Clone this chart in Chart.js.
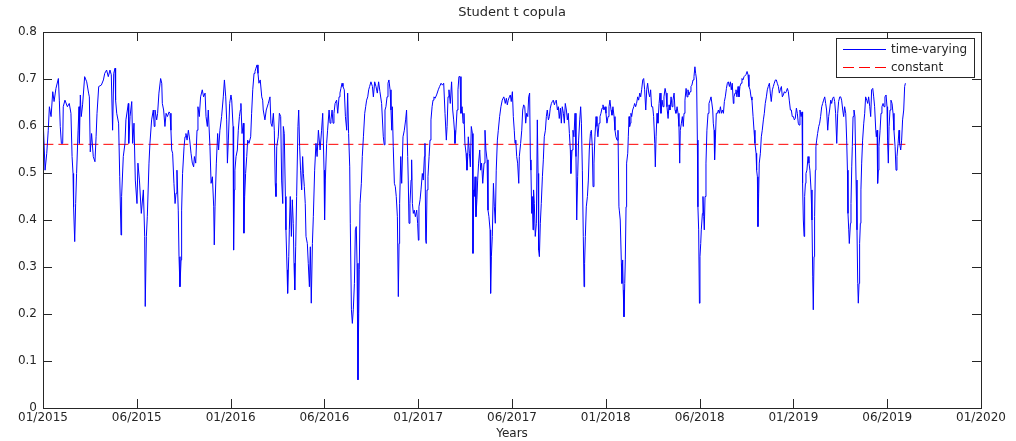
<!DOCTYPE html>
<html lang="en">
<head>
  <meta charset="UTF-8">
  <title>Student t copula</title>
  <script src="https://cdn.jsdelivr.net/npm/chart.js"></script>
  <style>
    body {
      margin: 0;
      background-color: #ffffff;
    }
    #chart {
      display: block;
    }
  </style>
</head>
<body>
  <canvas id="chart" width="1016" height="441"></canvas>

<script>
    // time in years since 01/2015
    const tYears = [
      0.002, 0.011, 0.020, 0.028, 0.034, 0.043, 0.052, 0.059, 0.069, 0.082,
      0.087, 0.092, 0.098, 0.105, 0.108, 0.117, 0.130, 0.140, 0.149, 0.155,
      0.160, 0.163, 0.169, 0.174, 0.179, 0.187, 0.192, 0.194, 0.199, 0.204,
      0.211, 0.222, 0.233, 0.243, 0.247, 0.252, 0.259, 0.268, 0.277, 0.283,
      0.288, 0.297, 0.311, 0.322, 0.329, 0.339, 0.348, 0.357, 0.364, 0.371,
      0.377, 0.384, 0.387, 0.393, 0.403, 0.409, 0.416, 0.419, 0.428, 0.437,
      0.442, 0.455, 0.457, 0.464, 0.473, 0.478, 0.485, 0.492, 0.501, 0.506,
      0.514, 0.524, 0.535, 0.542, 0.545, 0.551, 0.556, 0.565, 0.570, 0.579,
      0.588, 0.593,
      0.597, 0.606, 0.611, 0.618, 0.627, 0.633, 0.636, 0.643, 0.650, 0.656,
      0.663, 0.672, 0.677, 0.682, 0.686, 0.691, 0.698, 0.704, 0.709, 0.714,
      0.721, 0.725, 0.730, 0.736, 0.739, 0.744, 0.752, 0.757, 0.762, 0.768,
      0.775, 0.782, 0.789, 0.796, 0.803, 0.807, 0.814, 0.821, 0.826, 0.833,
      0.840, 0.849, 0.856, 0.864, 0.869, 0.876, 0.881, 0.890, 0.896, 0.903,
      0.910, 0.913, 0.917, 0.924, 0.931, 0.936, 0.943, 0.952, 0.961, 0.967,
      0.974, 0.979, 0.983, 0.988, 0.995, 1.002, 1.006, 1.013, 1.016, 1.020,
      1.023, 1.029, 1.036, 1.041, 1.047, 1.052, 1.055, 1.061, 1.068, 1.071,
      1.075, 1.080, 1.086, 1.091, 1.098, 1.107, 1.112, 1.118, 1.125, 1.130,
      1.135, 1.141, 1.146, 1.151, 1.158, 1.166, 1.171, 1.174, 1.183, 1.190,
      1.201,
      1.210, 1.215, 1.221, 1.228, 1.233, 1.238, 1.242, 1.246, 1.254, 1.260,
      1.267, 1.272, 1.278, 1.281, 1.286, 1.292, 1.295, 1.301, 1.304, 1.310,
      1.313, 1.318, 1.324, 1.329, 1.334, 1.338, 1.342, 1.347, 1.352, 1.359,
      1.363, 1.368, 1.373, 1.379, 1.384, 1.388, 1.393, 1.398, 1.402, 1.409,
      1.414, 1.420, 1.425, 1.430, 1.436, 1.441, 1.448, 1.455, 1.461, 1.468,
      1.477, 1.485, 1.491, 1.498, 1.501, 1.505, 1.512, 1.517, 1.525, 1.530,
      1.535, 1.541, 1.546, 1.551, 1.557, 1.565, 1.571, 1.578, 1.583, 1.588,
      1.594, 1.599, 1.606, 1.612, 1.619, 1.624, 1.629, 1.635, 1.638, 1.644,
      1.649, 1.654, 1.660, 1.665, 1.670, 1.674, 1.679, 1.683, 1.686, 1.690,
      1.697, 1.702, 1.708, 1.715, 1.720, 1.725, 1.731, 1.736, 1.741, 1.748,
      1.756, 1.761, 1.768, 1.775, 1.782, 1.789, 1.796, 1.805, 1.814, 1.819,
      1.823, 1.828, 1.834, 1.839, 1.844, 1.850, 1.855, 1.859, 1.862, 1.867,
      1.873, 1.878, 1.883, 1.889, 1.894, 1.898, 1.901, 1.907, 1.912, 1.919,
      1.926, 1.933, 1.938, 1.944, 1.947, 1.951, 1.956, 1.962, 1.965, 1.969,
      1.974, 1.979, 1.985, 1.992, 1.997, 2.001, 2.004, 2.010, 2.015, 2.022,
      2.027, 2.033, 2.036, 2.040, 2.043, 2.047, 2.052, 2.058, 2.063, 2.068,
      2.074, 2.079, 2.084, 2.090, 2.098, 2.107, 2.114, 2.122, 2.129, 2.136,
      2.143, 2.150, 2.154, 2.159, 2.164, 2.171, 2.178, 2.184, 2.189, 2.193,
      2.196, 2.201, 2.207, 2.212, 2.217, 2.223, 2.228, 2.234, 2.239, 2.244,
      2.249, 2.255, 2.260, 2.264, 2.267, 2.273, 2.278, 2.283, 2.289, 2.292,
      2.296, 2.299, 2.303, 2.308, 2.313, 2.317, 2.322, 2.328, 2.333, 2.338,
      2.344, 2.351, 2.356, 2.361, 2.367, 2.372, 2.377, 2.383, 2.386, 2.390,
      2.395, 2.401, 2.406, 2.411, 2.416, 2.422, 2.427, 2.434, 2.441, 2.448,
      2.456,
      2.459, 2.464, 2.470, 2.475, 2.480, 2.486, 2.491, 2.496, 2.502, 2.507,
      2.512, 2.516, 2.520, 2.525, 2.530, 2.536, 2.539, 2.546, 2.552, 2.557,
      2.562, 2.568, 2.573, 2.578, 2.584, 2.589, 2.594, 2.598, 2.601, 2.605,
      2.608, 2.612, 2.615, 2.619, 2.624, 2.630, 2.635, 2.639, 2.642, 2.646,
      2.651, 2.656, 2.662, 2.667, 2.672, 2.678, 2.683, 2.688, 2.694, 2.699,
      2.704, 2.710, 2.715, 2.720, 2.726, 2.731, 2.736, 2.742, 2.747, 2.752,
      2.758, 2.763, 2.768, 2.774, 2.779, 2.784, 2.790, 2.795, 2.800, 2.806,
      2.811, 2.814, 2.820, 2.825, 2.830, 2.836, 2.841, 2.845, 2.850, 2.855,
      2.861, 2.866, 2.870, 2.875, 2.880, 2.884, 2.887, 2.891, 2.896, 2.902,
      2.907, 2.912, 2.918, 2.923, 2.928, 2.932, 2.937, 2.942, 2.948, 2.953,
      2.958, 2.964, 2.969, 2.974, 2.980, 2.985, 2.990, 2.996, 3.001, 3.006,
      3.012, 3.017, 3.022, 3.028, 3.033, 3.038, 3.044, 3.049, 3.054, 3.060,
      3.065, 3.070,
      3.072, 3.077, 3.083, 3.086, 3.090, 3.093, 3.097, 3.101, 3.104, 3.108,
      3.111, 3.117, 3.120, 3.124, 3.127, 3.131, 3.134, 3.138, 3.143, 3.149,
      3.154, 3.159, 3.164, 3.170, 3.175, 3.181, 3.186, 3.191, 3.197, 3.202,
      3.207, 3.213, 3.218, 3.223, 3.229, 3.234, 3.239, 3.244, 3.250, 3.255,
      3.261, 3.264, 3.268, 3.273, 3.278, 3.284, 3.289, 3.294, 3.300, 3.305,
      3.310, 3.316, 3.321, 3.326, 3.332, 3.337, 3.342, 3.348, 3.353, 3.358,
      3.364, 3.369, 3.374, 3.380, 3.385, 3.390, 3.394, 3.397, 3.403, 3.408,
      3.413, 3.417, 3.422, 3.428, 3.433, 3.438, 3.443, 3.449, 3.454, 3.459,
      3.465, 3.470, 3.475, 3.479, 3.484, 3.488, 3.491, 3.495, 3.499, 3.502,
      3.506, 3.509, 3.515, 3.518, 3.522, 3.525, 3.529, 3.534, 3.539, 3.545,
      3.550, 3.556, 3.561, 3.566, 3.570, 3.573, 3.577, 3.580, 3.584, 3.589,
      3.595, 3.600, 3.605, 3.611, 3.616, 3.621, 3.627, 3.632, 3.637, 3.643,
      3.648, 3.653, 3.659, 3.664, 3.669, 3.674, 3.680,
      3.683, 3.689, 3.694, 3.699, 3.705, 3.710, 3.715, 3.721, 3.726, 3.731,
      3.737, 3.742, 3.747, 3.753, 3.758, 3.763, 3.769, 3.774, 3.779, 3.785,
      3.790, 3.795, 3.801, 3.804, 3.808, 3.811, 3.815, 3.818, 3.824, 3.829,
      3.834, 3.840, 3.845, 3.850, 3.856, 3.861, 3.866, 3.872, 3.877, 3.882,
      3.888, 3.893, 3.898, 3.904, 3.909, 3.914, 3.920, 3.925, 3.930, 3.936,
      3.941, 3.946, 3.952, 3.957, 3.962, 3.968, 3.973, 3.978, 3.984, 3.989,
      3.994, 4.000, 4.005, 4.010, 4.016, 4.021, 4.026, 4.030, 4.035, 4.041,
      4.046, 4.049, 4.053, 4.057, 4.060, 4.064, 4.067, 4.072, 4.078, 4.083,
      4.088, 4.094, 4.099, 4.103, 4.106, 4.110, 4.113, 4.117, 4.120, 4.124,
      4.129, 4.135, 4.140, 4.145, 4.151, 4.156, 4.161, 4.167, 4.172, 4.177,
      4.183, 4.188, 4.193, 4.199, 4.204, 4.209, 4.215, 4.220, 4.225, 4.231,
      4.236, 4.241, 4.247, 4.252, 4.257, 4.263, 4.268, 4.273, 4.279, 4.284,
      4.288, 4.291, 4.295, 4.298,
      4.304, 4.307, 4.311, 4.314, 4.318, 4.323, 4.328, 4.334, 4.339, 4.343,
      4.346, 4.350, 4.353, 4.357, 4.360, 4.364, 4.369, 4.375, 4.380, 4.385,
      4.391, 4.396, 4.401, 4.407, 4.412, 4.417, 4.423, 4.428, 4.433, 4.439,
      4.442, 4.446, 4.449, 4.453, 4.456, 4.462, 4.467, 4.472, 4.478, 4.483,
      4.488, 4.494, 4.499, 4.502, 4.506, 4.510, 4.515, 4.520, 4.526, 4.531,
      4.536, 4.542, 4.547, 4.552, 4.558, 4.563, 4.566, 4.572, 4.577, 4.582,
      4.588, 4.593, 4.597
    ];

    // time-varying correlation
    const rho = [
      0.599, 0.506, 0.542, 0.591, 0.641, 0.620, 0.673, 0.652, 0.680, 0.701,
      0.655, 0.599, 0.563, 0.563, 0.641, 0.655, 0.641, 0.648, 0.627, 0.535,
      0.499, 0.428, 0.354, 0.435, 0.499, 0.591, 0.641, 0.563, 0.666, 0.620,
      0.645, 0.705, 0.694, 0.670, 0.662, 0.545, 0.584, 0.535, 0.524, 0.577,
      0.627, 0.684, 0.687, 0.698, 0.712, 0.719, 0.705, 0.719, 0.709, 0.591,
      0.712, 0.723, 0.655, 0.627, 0.606, 0.492, 0.368, 0.450, 0.535, 0.563,
      0.613, 0.648, 0.563, 0.620, 0.652, 0.563, 0.606, 0.485, 0.435, 0.521,
      0.485, 0.414, 0.464, 0.365, 0.216, 0.365, 0.407, 0.521, 0.563, 0.613,
      0.634, 0.599,
      0.634, 0.613, 0.627, 0.670, 0.701, 0.691, 0.648, 0.634, 0.599, 0.627,
      0.620, 0.630, 0.627, 0.591, 0.549, 0.542, 0.478, 0.435, 0.457, 0.506,
      0.421, 0.322, 0.258, 0.315, 0.421, 0.499, 0.556, 0.577, 0.584, 0.570,
      0.591, 0.570, 0.542, 0.521, 0.513, 0.535, 0.521, 0.591, 0.641, 0.620,
      0.662, 0.677, 0.662, 0.670, 0.620, 0.599, 0.634, 0.556, 0.478, 0.492,
      0.428, 0.347, 0.428, 0.521, 0.584, 0.549, 0.591, 0.620, 0.662, 0.698,
      0.662, 0.613, 0.521, 0.570, 0.648, 0.666, 0.655, 0.599, 0.336, 0.464,
      0.506, 0.535, 0.549, 0.591, 0.620, 0.634, 0.648, 0.584, 0.606, 0.372,
      0.450, 0.499, 0.535, 0.570, 0.563, 0.577, 0.627, 0.677, 0.712, 0.716,
      0.723, 0.730, 0.712, 0.691, 0.698, 0.662, 0.655, 0.634, 0.613, 0.634,
      0.648,
      0.662, 0.606, 0.599, 0.627, 0.591, 0.478, 0.450, 0.556, 0.577, 0.627,
      0.620, 0.485, 0.435, 0.599, 0.584, 0.450, 0.379, 0.294, 0.244, 0.322,
      0.379, 0.450, 0.365, 0.443, 0.393, 0.308, 0.251, 0.343, 0.450, 0.599,
      0.634, 0.556, 0.506, 0.464, 0.535, 0.499, 0.471, 0.435, 0.365, 0.350,
      0.308, 0.258, 0.343, 0.223, 0.350, 0.407, 0.506, 0.563, 0.535, 0.591,
      0.549, 0.591, 0.627, 0.506, 0.400, 0.485, 0.563, 0.591, 0.634, 0.606,
      0.613, 0.634, 0.606, 0.627, 0.648, 0.655, 0.627, 0.662, 0.670, 0.680,
      0.691, 0.684, 0.677, 0.620, 0.591, 0.670, 0.584, 0.513, 0.393, 0.209,
      0.180, 0.209, 0.265, 0.379, 0.386, 0.308, 0.060, 0.201, 0.294, 0.435,
      0.478, 0.535, 0.577, 0.627, 0.641, 0.655, 0.662, 0.677, 0.684, 0.694,
      0.684, 0.662, 0.694, 0.684, 0.670, 0.694, 0.673, 0.648, 0.577, 0.560,
      0.634, 0.641, 0.662, 0.691, 0.698, 0.677, 0.634, 0.591, 0.641, 0.556,
      0.478, 0.471, 0.450, 0.407, 0.237, 0.350, 0.435, 0.535, 0.478, 0.577,
      0.591, 0.613, 0.634, 0.535, 0.485, 0.393, 0.435, 0.485, 0.528, 0.435,
      0.414, 0.421, 0.407, 0.421, 0.393, 0.357, 0.428, 0.443, 0.464, 0.499,
      0.485, 0.535, 0.563, 0.357, 0.350, 0.464, 0.492, 0.535, 0.570, 0.613,
      0.641, 0.655, 0.662, 0.659, 0.666, 0.677, 0.684, 0.691, 0.687, 0.691,
      0.627, 0.570, 0.599, 0.662, 0.677, 0.648, 0.694, 0.634, 0.613, 0.591,
      0.563, 0.591, 0.634, 0.677, 0.705, 0.705, 0.627, 0.641, 0.606, 0.627,
      0.563, 0.542, 0.506, 0.535, 0.577, 0.542, 0.513, 0.599, 0.584, 0.329,
      0.464, 0.450, 0.492, 0.407, 0.443, 0.485, 0.521, 0.549, 0.506, 0.521,
      0.478, 0.521, 0.591, 0.549, 0.528, 0.421, 0.407, 0.379, 0.244, 0.322,
      0.365, 0.478, 0.428, 0.393, 0.506, 0.570, 0.591, 0.620, 0.641, 0.655,
      0.662,
      0.659, 0.648, 0.659, 0.645, 0.655, 0.662, 0.666, 0.652, 0.673, 0.620,
      0.591, 0.563, 0.570, 0.535, 0.521, 0.478, 0.535, 0.563, 0.591, 0.634,
      0.645, 0.641, 0.606, 0.627, 0.620, 0.662, 0.670, 0.528, 0.506, 0.414,
      0.450, 0.379, 0.464, 0.435, 0.365, 0.393, 0.613, 0.499, 0.336, 0.322,
      0.393, 0.435, 0.492, 0.528, 0.577, 0.591, 0.620, 0.634, 0.613, 0.620,
      0.638, 0.648, 0.652, 0.655, 0.645, 0.652, 0.655, 0.634, 0.641, 0.616,
      0.638, 0.606, 0.641, 0.627, 0.606, 0.648, 0.634, 0.613, 0.627, 0.584,
      0.549, 0.499, 0.549, 0.591, 0.577, 0.627, 0.535, 0.400, 0.492, 0.570,
      0.613, 0.641, 0.606, 0.506, 0.365, 0.258, 0.308, 0.365, 0.428, 0.450,
      0.485, 0.549, 0.584, 0.591, 0.556, 0.471, 0.521, 0.577, 0.620, 0.599,
      0.577, 0.606, 0.620, 0.627, 0.638, 0.645, 0.634, 0.641, 0.627, 0.606,
      0.620, 0.641, 0.655, 0.634, 0.623, 0.641, 0.620, 0.591, 0.577, 0.570,
      0.591, 0.428,
      0.421, 0.400, 0.308, 0.265, 0.315, 0.251, 0.194, 0.265, 0.315, 0.428,
      0.521, 0.542, 0.577, 0.620, 0.599, 0.606, 0.627, 0.620, 0.634, 0.641,
      0.648, 0.641, 0.648, 0.662, 0.655, 0.670, 0.662, 0.677, 0.698, 0.701,
      0.677, 0.634, 0.677, 0.691, 0.670, 0.662, 0.677, 0.641, 0.641, 0.620,
      0.563, 0.513, 0.577, 0.627, 0.606, 0.648, 0.670, 0.627, 0.655, 0.641,
      0.662, 0.680, 0.670, 0.641, 0.616, 0.645, 0.634, 0.662, 0.641, 0.655,
      0.670, 0.634, 0.627, 0.641, 0.627, 0.599, 0.521, 0.591, 0.606, 0.620,
      0.599, 0.627, 0.655, 0.680, 0.662, 0.677, 0.666, 0.673, 0.684, 0.687,
      0.698, 0.705, 0.726, 0.712, 0.698, 0.570, 0.428, 0.379, 0.223, 0.322,
      0.350, 0.379, 0.414, 0.450, 0.407, 0.379, 0.450, 0.521, 0.591, 0.627,
      0.648, 0.655, 0.662, 0.662, 0.634, 0.606, 0.591, 0.528, 0.570, 0.627,
      0.627, 0.634, 0.627, 0.641, 0.627, 0.634, 0.627, 0.652, 0.662, 0.680,
      0.691, 0.694, 0.684, 0.694, 0.677, 0.691, 0.648,
      0.662, 0.670, 0.677, 0.662, 0.684, 0.662, 0.684, 0.691, 0.701, 0.698,
      0.705, 0.705, 0.709, 0.716, 0.709, 0.684, 0.677, 0.662, 0.655, 0.620,
      0.591, 0.563, 0.542, 0.506, 0.492, 0.386, 0.457, 0.521, 0.542, 0.577,
      0.591, 0.613, 0.627, 0.648, 0.662, 0.677, 0.684, 0.691, 0.670, 0.652,
      0.677, 0.684, 0.691, 0.698, 0.698, 0.691, 0.684, 0.670, 0.677, 0.684,
      0.662, 0.666, 0.673, 0.670, 0.673, 0.680, 0.673, 0.655, 0.634, 0.634,
      0.620, 0.620, 0.613, 0.616, 0.638, 0.627, 0.606, 0.602, 0.634, 0.620,
      0.630, 0.478, 0.400, 0.365, 0.450, 0.478, 0.499, 0.506, 0.535, 0.521,
      0.506, 0.464, 0.400, 0.279, 0.209, 0.322, 0.407, 0.506, 0.556, 0.570,
      0.584, 0.599, 0.606, 0.620, 0.641, 0.648, 0.655, 0.662, 0.648, 0.634,
      0.591, 0.620, 0.634, 0.655, 0.648, 0.659, 0.662, 0.652, 0.627, 0.563,
      0.627, 0.652, 0.662, 0.662, 0.655, 0.634, 0.620, 0.641, 0.627, 0.570,
      0.506, 0.414, 0.379, 0.350,
      0.393, 0.435, 0.513, 0.556, 0.620, 0.634, 0.620, 0.485, 0.379, 0.265,
      0.223, 0.265, 0.350, 0.393, 0.464, 0.521, 0.570, 0.606, 0.627, 0.662,
      0.655, 0.648, 0.662, 0.641, 0.620, 0.677, 0.680, 0.662, 0.641, 0.591,
      0.577, 0.591, 0.478, 0.506, 0.556, 0.591, 0.627, 0.641, 0.648, 0.641,
      0.662, 0.666, 0.641, 0.570, 0.521, 0.599, 0.634, 0.655, 0.648, 0.627,
      0.591, 0.556, 0.506, 0.535, 0.563, 0.591, 0.563, 0.549, 0.570, 0.613,
      0.634, 0.684, 0.691
    ];

    const constantRho = 0.561;

    const xTickLabels = ['01/2015', '06/2015', '01/2016', '06/2016', '01/2017', '06/2017',
                         '01/2018', '06/2018', '01/2019', '06/2019', '01/2020'];
    const yTickLabels = ['0', '0.1', '0.2', '0.3', '0.4', '0.5', '0.6', '0.7', '0.8'];

    const textColor = '#262626';
    const fontFamily = "'DejaVu Sans', sans-serif";

    Chart.defaults.font.family = fontFamily;
    Chart.defaults.font.size = 12;
    Chart.defaults.color = textColor;

    // matlab style box with inward ticks
    const axesBox = {
      id: 'axesBox',
      afterDatasetsDraw(chart) {
        const { ctx, chartArea: a, scales: { x, y } } = chart;
        const len = 9;
        ctx.save();
        ctx.strokeStyle = textColor;
        ctx.lineWidth = 1;
        ctx.beginPath();
        x.ticks.forEach(t => {
          const px = Math.round(x.getPixelForValue(t.value)) + 0.5;
          ctx.moveTo(px, a.bottom);
          ctx.lineTo(px, a.bottom - len);
          ctx.moveTo(px, a.top);
          ctx.lineTo(px, a.top + len);
        });
        y.ticks.forEach(t => {
          const py = Math.round(y.getPixelForValue(t.value)) + 0.5;
          ctx.moveTo(a.left, py);
          ctx.lineTo(a.left + len, py);
          ctx.moveTo(a.right, py);
          ctx.lineTo(a.right - len, py);
        });
        ctx.stroke();
        ctx.strokeRect(Math.round(a.left) + 0.5, Math.round(a.top) + 0.5,
                       Math.round(a.right - a.left), Math.round(a.bottom - a.top));
        ctx.restore();
      }
    };

    // legend box in the upper right corner of the axes
    const boxLegend = {
      id: 'boxLegend',
      afterDraw(chart) {
        const { ctx, chartArea: a } = chart;
        const sets = chart.data.datasets;
        const w = 138, h = 39;
        const left = Math.round(a.right) - 7 - w;
        const top = Math.round(a.top) + 6;
        ctx.save();
        ctx.fillStyle = '#ffffff';
        ctx.fillRect(left, top, w, h);
        ctx.strokeStyle = textColor;
        ctx.lineWidth = 1;
        ctx.strokeRect(left + 0.5, top + 0.5, w, h);
        sets.forEach((ds, i) => {
          const yy = top + 11.5 + i * 18;
          ctx.beginPath();
          ctx.strokeStyle = ds.borderColor;
          ctx.setLineDash(ds.borderDash ? [11, 5] : []);
          ctx.moveTo(left + 7, yy);
          ctx.lineTo(left + 50, yy);
          ctx.stroke();
          ctx.setLineDash([]);
          ctx.fillStyle = textColor;
          ctx.font = '12px ' + fontFamily;
          ctx.textBaseline = 'middle';
          ctx.fillText(ds.label, left + 55, yy);
        });
        ctx.restore();
      }
    };

    new Chart(document.getElementById('chart').getContext('2d'), {
      type: 'line',
      data: {
        datasets: [
          {
            label: 'time-varying',
            data: tYears.map((t, i) => ({ x: t, y: rho[i] })),
            borderColor: '#0000ff',
            borderWidth: 1,
            pointRadius: 0,
            tension: 0
          },
          {
            label: 'constant',
            data: [
              { x: tYears[0], y: constantRho },
              { x: tYears[tYears.length - 1], y: constantRho }
            ],
            borderColor: '#ff0000',
            borderWidth: 1,
            borderDash: [10, 5],
            pointRadius: 0
          }
        ]
      },
      options: {
        responsive: false,
        animation: false,
        devicePixelRatio: 1,
        layout: { padding: { right: 35 } },
        plugins: {
          legend: { display: false },
          tooltip: { enabled: false },
          title: {
            display: true,
            text: 'Student t copula',
            fullSize: false,
            color: textColor,
            font: { size: 13, weight: 'normal' },
            padding: { top: 5, bottom: 11.4 }
          }
        },
        scales: {
          x: {
            type: 'linear',
            min: 0,
            max: 5,
            grid: { display: false, drawTicks: false },
            border: { display: false },
            ticks: {
              stepSize: 0.5,
              autoSkip: false,
              maxRotation: 0,
              padding: 3,
              callback: v => xTickLabels[Math.round(v * 2)]
            },
            title: {
              display: true,
              text: 'Years',
              padding: { top: 0, bottom: 0 }
            },
            afterFit: scale => { scale.height = 33; }
          },
          y: {
            min: 0,
            max: 0.8,
            grid: { display: false, drawTicks: false },
            border: { display: false },
            ticks: {
              stepSize: 0.1,
              padding: 6,
              callback: v => yTickLabels[Math.round(v * 10)]
            },
            afterFit: scale => { scale.width = 43; }
          }
        }
      },
      plugins: [axesBox, boxLegend]
    });
</script>
</body>
</html>
